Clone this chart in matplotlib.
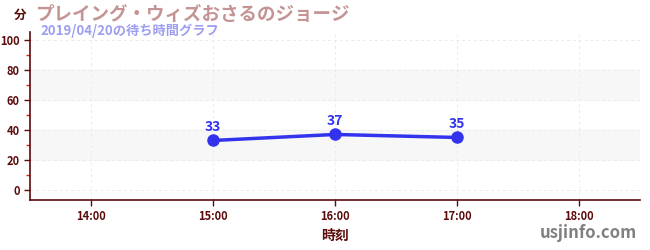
import matplotlib
matplotlib.use("Agg")
import matplotlib.pyplot as plt
from matplotlib.ticker import MultipleLocator

plt.rcParams['font.family'] = ['Noto Sans CJK JP', 'DejaVu Sans']

hours = [15, 16, 17]
waits = [33, 37, 35]
xticks = [14, 15, 16, 17, 18]
xtick_labels = ["14:00", "15:00", "16:00", "17:00", "18:00"]
yticks = [0, 20, 40, 60, 80, 100]

dark = "#5c0a0a"
blue = "#3333ee"

fig = plt.figure(figsize=(6.5, 2.5), dpi=100)
ax = fig.add_axes([30/650, 0.2, 610/650, 0.67])
ax.set_xlim(13.5, 18.5)
ax.set_ylim(-6.7, 105)

for lo, hi in [(20, 40), (60, 80)]:
    ax.axhspan(lo, hi, color="#f7f7f7", zorder=0)

ax.set_yticks(yticks)
ax.yaxis.set_minor_locator(MultipleLocator(10))
ax.set_xticks(xticks)
ax.set_xticklabels(xtick_labels)
ax.grid(True, which="major", color="#ebebeb", linestyle=(0, (3, 3)), linewidth=0.7, zorder=0)

for s in ["top", "right"]:
    ax.spines[s].set_visible(False)
for s in ["left", "bottom"]:
    ax.spines[s].set_color(dark)
    ax.spines[s].set_linewidth(1.2)

ax.tick_params(axis="both", which="major", colors=dark, labelsize=8, length=4, width=1)
ax.tick_params(axis="y", which="minor", colors="#dd2222", length=3, width=1)
for lab in ax.get_xticklabels() + ax.get_yticklabels():
    lab.set_fontweight("bold")

ax.plot(hours, waits, color=blue, linewidth=2.5, marker="o", markersize=8, zorder=3)
for h, w in zip(hours, waits):
    ax.annotate(str(w), (h, w), xytext=(0, 5), textcoords="offset points",
                ha="center", va="bottom", color=blue, fontsize=10, fontweight="bold")

ax.set_xlabel("時刻", color=dark, fontsize=10, fontweight="bold", labelpad=4)

fig.text(20/650, 1 - 15/250, "分", color=dark, fontsize=9, fontweight="bold", ha="center", va="center")
fig.text(35/650, 1 - 14/250, "プレイング・ウィズおさるのジョージ", color="#c49494",
         fontsize=13.3, fontweight="bold", ha="left", va="center")
fig.text(40/650, 1 - 31/250, "2019/04/20の待ち時間グラフ", color="#9e9ef0",
         fontsize=9.5, fontweight="bold", ha="left", va="center")
fig.text(637/650, 1 - 233/250, "usjinfo.com", color="#808080",
         fontsize=12, fontweight="bold", ha="right", va="center")

fig.savefig("out.png", dpi=100)
